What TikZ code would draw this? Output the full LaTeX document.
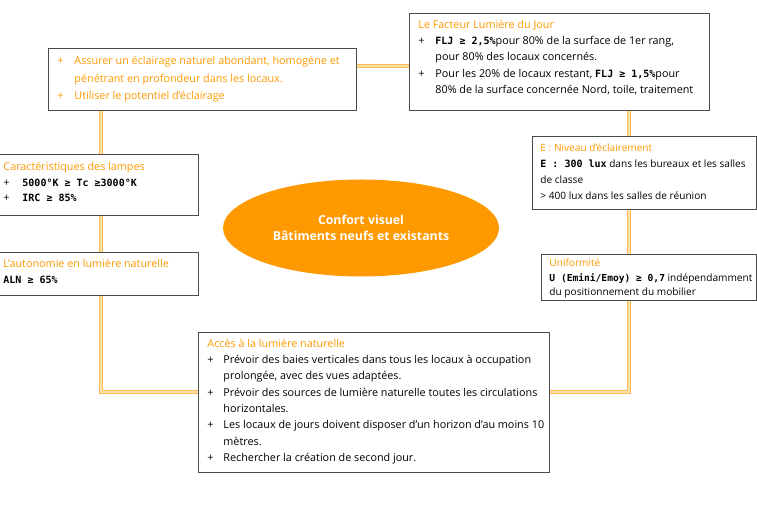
\documentclass[tikz,border=0pt]{standalone}
\usepackage{fontspec}
\setmainfont{Open Sans}
\newfontfamily\keyfont{DejaVu Sans Mono}
\usetikzlibrary{shapes.geometric,backgrounds}

\definecolor{accent}{HTML}{FF9900}
\definecolor{linkout}{HTML}{FDBA55}
\definecolor{linkin}{HTML}{FFE0A6}
\definecolor{frame}{HTML}{4A4A4A}

% bold key values (monospaced look)
\newcommand\kw[1]{{\keyfont\bfseries\fontsize{10}{12}\selectfont #1}}
% orange heading line
\newcommand\hd[1]{\noindent\strut\textcolor{accent}{#1}\par}
% plain line
\newcommand\pl[1]{\noindent\strut #1\par}
% bulleted item with hanging indent
\newcommand\pit[2][17pt]{\noindent\hangindent=#1\hangafter=1\strut\makebox[#1][l]{+}#2\par}
% box body: [baselineskip]{width}{height}{top gap}{content}
\newcommand\boxbody[5][16.3pt]{\parbox[t][#3][t]{#2}{\fontsize{10.8}{#1}\selectfont
  \raggedright\rightskip=-20pt plus 1fil\vspace*{#4}#5}}

\tikzset{
  panel/.style={draw=frame, line width=0.9pt, fill=white, anchor=north west,
    inner ysep=0pt, inner xsep=9pt},
  link/.style={draw=linkout, line width=0.9pt, double=linkin, double distance=1.3pt},
  hub/.style={ellipse, fill=accent, minimum width=276pt, minimum height=97pt,
    align=center, text=white, font=\bfseries\fontsize{12.3}{16}\selectfont, inner sep=0pt}
}

\begin{document}
\begin{tikzpicture}[x=1pt, y=-1pt]
\useasboundingbox (0,0) rectangle (757,518);

% objectives
\node[panel] (A) at (48,48) {\boxbody[17.5pt]{290pt}{62pt}{4pt}{\color{accent}%
  \pit{Assurer un éclairage naturel abondant, homogène et\newline pénétrant en profondeur dans les locaux.}%
  \pit{Utiliser le potentiel d'éclairage}}};

% daylight factor
\node[panel] (B) at (409,13) {\boxbody{282pt}{97pt}{3.5pt}{%
  \hd{Le Facteur Lumière du Jour}%
  \pit{\kw{FLJ ≥ 2,5\%}pour 80\% de la surface de 1er rang,\newline pour 80\% des locaux concernés.}%
  \pit{Pour les 20\% de locaux restant, \kw{FLJ ≥ 1,5\%}pour\newline 80\% de la surface concernée Nord, toile, traitement}}};

% lamps
\node[panel, inner xsep=4pt] (C) at (-1,154) {\boxbody[15.5pt]{191pt}{61pt}{5.5pt}{%
  \hd{Caractéristiques des lampes}%
  \pit[19pt]{\kw{5000°K ≥ Tc ≥3000°K}}%
  \pit[19pt]{\kw{IRC ≥ 85\%}}}};

% illuminance level
\node[panel, inner xsep=8pt] (D) at (532,136) {\boxbody[15.7pt]{208pt}{73pt}{4.5pt}{%
  \fontsize{10.1}{15.7}\selectfont
  \hd{E : Niveau d'éclairement}%
  \pl{\kw{E : 300 lux} dans les bureaux et les salles\newline de classe}%
  \pl{> 400 lux dans les salles de réunion}}};

% daylight autonomy
\node[panel, inner xsep=4pt] (E) at (-1,252) {\boxbody[16pt]{191pt}{43pt}{3.5pt}{%
  \hd{L'autonomie en lumière naturelle}%
  \pl{\kw{ALN ≥ 65\%}}}};

% uniformity
\node[panel, inner xsep=8pt] (F) at (541,254) {\boxbody[14.5pt]{199pt}{46pt}{2pt}{%
  \fontsize{10.1}{14.5}\selectfont
  \hd{Uniformité}%
  \pl{{\keyfont\bfseries\fontsize{9.6}{12}\selectfont U (Emini/Emoy) ≥ 0,7} indépendamment\newline du positionnement du mobilier}}};

% access to daylight
\node[panel] (G) at (198,332) {\boxbody{333pt}{140pt}{3.5pt}{%
  \hd{Accès à la lumière naturelle}%
  \pit[16pt]{Prévoir des baies verticales dans tous les locaux à occupation\newline prolongée, avec des vues adaptées.}%
  \pit[16pt]{Prévoir des sources de lumière naturelle toutes les circulations\newline horizontales.}%
  \pit[16pt]{Les locaux de jours doivent disposer d'un horizon d'au moins 10\newline mètres.}%
  \pit[16pt]{Rechercher la création de second jour.}}};

% central theme
\node[hub] (hub) at (361,228) {Confort visuel\\Bâtiments neufs et existants};

% connectors, drawn behind the panels
\coordinate (topY) at (0,66);
\coordinate (botY) at (0,392);
\coordinate (leftX) at (101,0);
\coordinate (rightX) at (629,0);
\begin{scope}[on background layer]
  \fill[white] (0,0) rectangle (757,518);
  \draw[link] (A.east |- topY) -- (B.west |- topY);
  \draw[link] (A.south -| leftX) -- (leftX |- botY) -- (G.west |- botY);
  \draw[link] (B.south -| rightX) -- (rightX |- botY) -- (G.east |- botY);
\end{scope}
\end{tikzpicture}
\end{document}
